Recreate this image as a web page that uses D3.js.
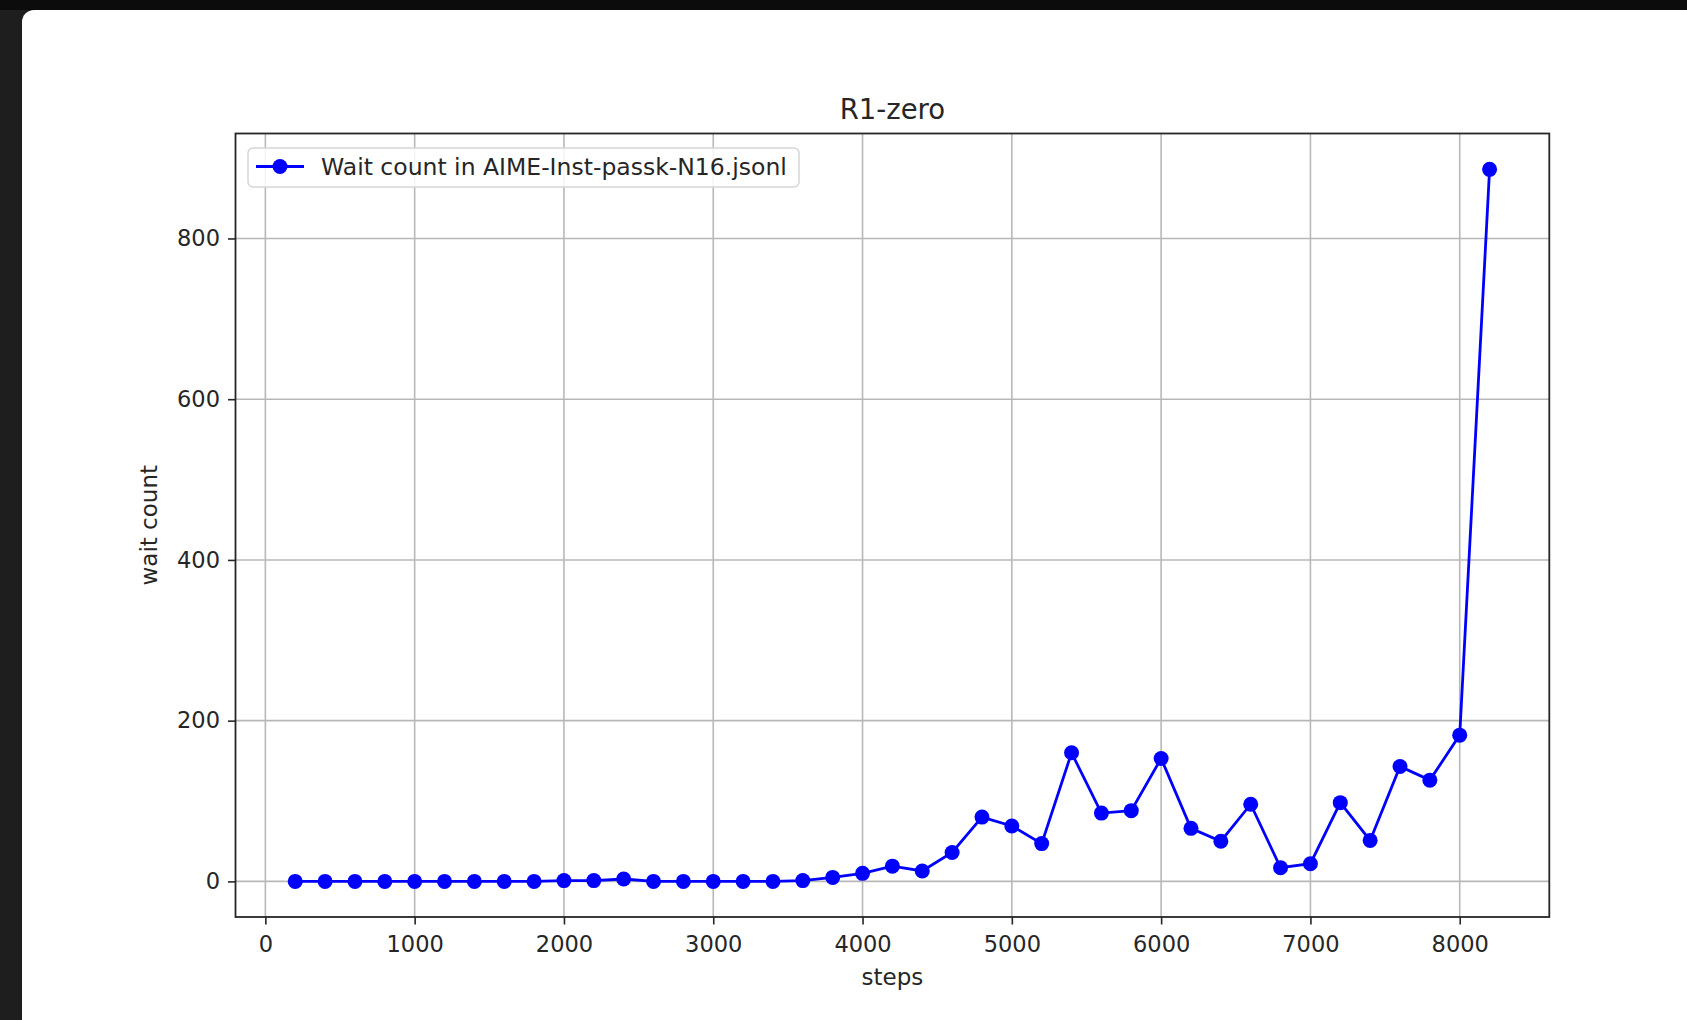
<!DOCTYPE html>
<html>

<head>
    <title>R1-zero wait count</title>
    <script src="https://cdnjs.cloudflare.com/ajax/libs/d3/7.8.5/d3.min.js"></script>
</head>

<body>
    <style>
        html,
        body {
            margin: 0;
            padding: 0;
            width: 1687px;
            height: 1020px;
            overflow: hidden;
            background-color: #1e1e1e;
            font-family: 'DejaVu Sans', sans-serif;
        }

        #top-strip {
            position: absolute;
            left: 0;
            top: 0;
            width: 1687px;
            height: 10px;
            background-color: #0c0c0c;
        }

        #page {
            position: absolute;
            left: 22px;
            top: 10px;
            width: 1665px;
            height: 1010px;
            background-color: white;
            border-top-left-radius: 12px;
        }

        #chart {
            position: absolute;
            left: 0;
            top: 0;
        }

        .tick text {
            font-family: 'DejaVu Sans', sans-serif;
            font-size: 22.5px;
            fill: #262626;
        }

        .tick line {
            stroke: #262626;
            stroke-width: 1.6px;
        }

        .grid line {
            stroke: #b8b8b8;
            stroke-width: 1.6px;
        }
    </style>
    <div id="top-strip"></div>
    <div id="page"></div>
    <svg id="chart" width="1687" height="1020"></svg>

    <script>
        // steps on the x axis
        const steps = [200, 400, 600, 800, 1000, 1200, 1400, 1600, 1800, 2000,
            2200, 2400, 2600, 2800, 3000, 3200, 3400, 3600, 3800, 4000,
            4200, 4400, 4600, 4800, 5000, 5200, 5400, 5600, 5800, 6000,
            6200, 6400, 6600, 6800, 7000, 7200, 7400, 7600, 7800, 8000, 8200];

        // wait count in AIME-Inst-passk-N16.jsonl
        const waitCounts = [0, 0, 0, 0, 0, 0, 0, 0, 0, 1,
            1, 3, 0, 0, 0, 0, 0, 1, 5, 10,
            19, 13, 36, 80, 69, 47, 160, 85, 88, 153,
            66, 50, 96, 17, 22, 98, 51, 143, 126, 182, 886];

        const xTicks = [0, 1000, 2000, 3000, 4000, 5000, 6000, 7000, 8000];
        const yTicks = [0, 200, 400, 600, 800];

        const chartTitle = "R1-zero";
        const xLabel = "steps";
        const yLabel = "wait count";
        const seriesName = "Wait count in AIME-Inst-passk-N16.jsonl";

        const points = steps.map((s, i) => ({ step: s, count: waitCounts[i] }));

        const plotLeft = 235.5, plotRight = 1549.3, plotTop = 133.5, plotBottom = 917;

        const svg = d3.select("#chart");

        const xScale = d3.scaleLinear()
            .domain([-200, 8600])
            .range([plotLeft, plotRight]);

        const yScale = d3.scaleLinear()
            .domain([-44.3, 930.6])
            .range([plotBottom, plotTop]);

        // grid
        svg.append("g")
            .attr("class", "grid")
            .selectAll("line")
            .data(xTicks)
            .enter()
            .append("line")
            .attr("x1", d => xScale(d))
            .attr("x2", d => xScale(d))
            .attr("y1", plotTop)
            .attr("y2", plotBottom);

        svg.append("g")
            .attr("class", "grid")
            .selectAll("line")
            .data(yTicks)
            .enter()
            .append("line")
            .attr("x1", plotLeft)
            .attr("x2", plotRight)
            .attr("y1", d => yScale(d))
            .attr("y2", d => yScale(d));

        // axes
        const xAxis = d3.axisBottom(xScale)
            .tickValues(xTicks)
            .tickFormat(d3.format("d"))
            .tickSize(7.5)
            .tickPadding(11);

        svg.append("g")
            .attr("transform", "translate(0," + plotBottom + ")")
            .call(xAxis)
            .call(g => g.select(".domain").remove())
            .selectAll("text")
            .attr("dy", "0.75em");

        const yAxis = d3.axisLeft(yScale)
            .tickValues(yTicks)
            .tickFormat(d3.format("d"))
            .tickSize(7.5)
            .tickPadding(8);

        svg.append("g")
            .attr("transform", "translate(" + plotLeft + ",0)")
            .call(yAxis)
            .call(g => g.select(".domain").remove());

        // frame
        svg.append("rect")
            .attr("x", plotLeft)
            .attr("y", plotTop)
            .attr("width", plotRight - plotLeft)
            .attr("height", plotBottom - plotTop)
            .attr("fill", "none")
            .attr("stroke", "#262626")
            .attr("stroke-width", 1.8);

        // series
        const line = d3.line()
            .x(d => xScale(d.step))
            .y(d => yScale(d.count));

        svg.append("path")
            .datum(points)
            .attr("d", line)
            .attr("fill", "none")
            .attr("stroke", "#0000ff")
            .attr("stroke-width", 2.8);

        svg.selectAll("circle.dot")
            .data(points)
            .enter()
            .append("circle")
            .attr("class", "dot")
            .attr("cx", d => xScale(d.step))
            .attr("cy", d => yScale(d.count))
            .attr("r", 7.5)
            .attr("fill", "#0000ff");

        // title and labels
        svg.append("text")
            .attr("x", (plotLeft + plotRight) / 2)
            .attr("y", 119)
            .attr("text-anchor", "middle")
            .style("font-size", "27.5px")
            .style("fill", "#262626")
            .text(chartTitle);

        svg.append("text")
            .attr("x", (plotLeft + plotRight) / 2)
            .attr("y", 985)
            .attr("text-anchor", "middle")
            .style("font-size", "23px")
            .style("fill", "#262626")
            .text(xLabel);

        svg.append("text")
            .attr("transform", "translate(157," + ((plotTop + plotBottom) / 2) + ") rotate(-90)")
            .attr("text-anchor", "middle")
            .style("font-size", "23px")
            .style("fill", "#262626")
            .text(yLabel);

        // legend
        const legend = svg.append("g")
            .attr("transform", "translate(248,148)");

        legend.append("rect")
            .attr("width", 551)
            .attr("height", 39)
            .attr("rx", 5)
            .attr("fill", "white")
            .attr("fill-opacity", 0.85)
            .attr("stroke", "#d6d6d6")
            .attr("stroke-width", 1.5);

        legend.append("line")
            .attr("x1", 8)
            .attr("x2", 56)
            .attr("y1", 18.5)
            .attr("y2", 18.5)
            .attr("stroke", "#0000ff")
            .attr("stroke-width", 2.8);

        legend.append("circle")
            .attr("cx", 32)
            .attr("cy", 18.5)
            .attr("r", 7.5)
            .attr("fill", "#0000ff");

        legend.append("text")
            .attr("x", 73)
            .attr("y", 26.5)
            .style("font-size", "23.5px")
            .style("fill", "#262626")
            .text(seriesName);
    </script>
</body>

</html>
